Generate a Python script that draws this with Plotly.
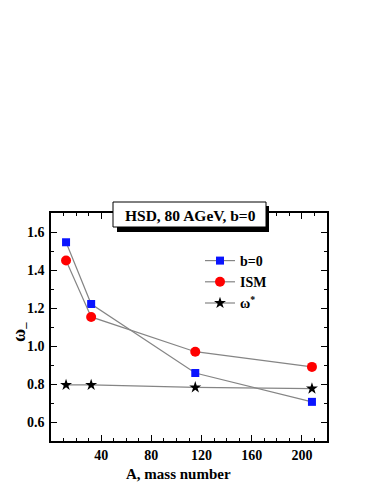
import plotly.graph_objects as go

# ---- data ----
A = [12, 32, 115, 208]
omega_b0 = [1.546, 1.221, 0.858, 0.706]
omega_ism = [1.450, 1.153, 0.970, 0.890]
omega_star = [0.795, 0.795, 0.782, 0.776]
x_ticks = [40, 80, 120, 160, 200]
y_ticks = [0.6, 0.8, 1.0, 1.2, 1.4, 1.6]
series_names = ["b=0", "ISM", "ω<sup>*</sup>"]
title_text = "HSD, 80 AGeV, b=0"
x_title = "A, mass number"
y_title = "ω<sub>–</sub>"

FONT = "Liberation Serif"
LINE = "#858585"

fig = go.Figure()
fig.add_trace(go.Scatter(x=A, y=omega_b0, name=series_names[0], mode="lines+markers",
                         line=dict(color=LINE, width=1.2),
                         marker=dict(symbol="square", size=8, color="#0a14ff")))
fig.add_trace(go.Scatter(x=A, y=omega_ism, name=series_names[1], mode="lines+markers",
                         line=dict(color=LINE, width=1.2),
                         marker=dict(symbol="circle", size=10, color="#ff0000")))
fig.add_trace(go.Scatter(x=A, y=omega_star, name=series_names[2], mode="lines+markers",
                         line=dict(color=LINE, width=1.2),
                         marker=dict(symbol="star", size=9, color="black")))

axis_common = dict(showgrid=False, zeroline=False, showline=True, linecolor="black",
                   linewidth=1.5, mirror="ticks", ticks="inside", ticklen=6, tickwidth=1.3,
                   tickcolor="black",
                   tickfont=dict(family=FONT, size=14, color="black", weight="bold"))

fig.update_xaxes(range=[0, 220], tickvals=x_ticks, ticklabelstandoff=0,
                 minor=dict(dtick=10, tick0=0, ticks="inside", ticklen=3, tickcolor="black", tickwidth=1.2),
                 **axis_common)
fig.update_yaxes(range=[0.5, 1.7], tickvals=y_ticks, tickformat=".1f", ticklabelstandoff=2,
                 minor=dict(dtick=0.1, tick0=0.5, ticks="inside", ticklen=3, tickcolor="black", tickwidth=1.2),
                 **axis_common)

# page has an 8px body margin: figure is offset by (8, 8) in the window
OFF = 8
W, H = 374 - OFF, 484 - OFF
L, R, T, B = 51 - OFF, 47, 213 - OFF, 43
pw, ph = W - L - R, H - T - B

def px_x(x):  # window pixel -> paper
    return (x - OFF - L) / pw

def px_y(y):
    return (H - B - (y - OFF)) / ph

# title box with shadow
fig.add_shape(type="rect", xref="paper", yref="paper",
              x0=px_x(117), x1=px_x(269), y0=px_y(232), y1=px_y(206),
              fillcolor="black", line=dict(width=0), layer="above")
fig.add_shape(type="rect", xref="paper", yref="paper",
              x0=px_x(113), x1=px_x(266), y0=px_y(227), y1=px_y(202),
              fillcolor="white", line=dict(color="black", width=1), layer="above")
fig.add_annotation(text=title_text, xref="paper", yref="paper",
                   x=px_x(190), y=px_y(215), showarrow=False,
                   xanchor="center", yanchor="middle",
                   font=dict(family=FONT, size=15.5, color="black", weight="bold"))

fig.add_annotation(text=x_title, xref="paper", yref="paper",
                   x=px_x(178), y=px_y(474), showarrow=False,
                   xanchor="center", yanchor="middle",
                   font=dict(family=FONT, size=15, color="black", weight="bold"))
fig.add_annotation(text=y_title, xref="paper", yref="paper",
                   x=px_x(20), y=px_y(332), showarrow=False, textangle=-90,
                   xanchor="center", yanchor="middle",
                   font=dict(family=FONT, size=18, color="black", weight="bold"))

fig.update_layout(
    width=W, height=H,
    margin=dict(l=L, r=R, t=T, b=B, pad=0),
    paper_bgcolor="white", plot_bgcolor="white",
    font=dict(family=FONT, color="black", weight="bold"),
    showlegend=True,
    legend=dict(x=px_x(200), y=px_y(245), xanchor="left", yanchor="top",
                bgcolor="rgba(0,0,0,0)", borderwidth=0,
                font=dict(family=FONT, size=14, color="black", weight="bold"),
                itemwidth=30, tracegroupgap=0),
)

fig.write_html("out.html")
